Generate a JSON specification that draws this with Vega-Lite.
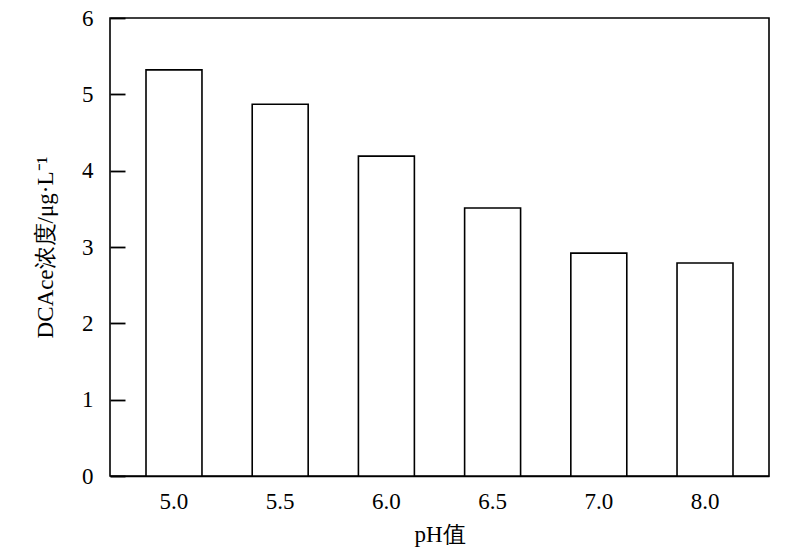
{
  "$schema": "https://vega.github.io/schema/vega-lite/v6.json",
  "autosize": "none",
  "width": 659,
  "height": 458,
  "padding": {"left": 110, "top": 18, "right": 31, "bottom": 84},
  "background": "white",
  "data": {"values": [
    {"pH": "5.0", "c": 5.32},
    {"pH": "5.5", "c": 4.87},
    {"pH": "6.0", "c": 4.19},
    {"pH": "6.5", "c": 3.51},
    {"pH": "7.0", "c": 2.92},
    {"pH": "8.0", "c": 2.79}
  ]},
  "mark": {"type": "bar", "fill": "white", "stroke": "black", "strokeWidth": 1.6},
  "encoding": {
    "x": {
      "field": "pH", "type": "ordinal", "sort": null,
      "scale": {"paddingInner": 0.473, "paddingOuter": 0.339},
      "axis": {"title": "pH值", "labelAngle": 0, "ticks": false, "labelPadding": 14, "titlePadding": 10,
        "labelFont": "Liberation Serif", "labelFontSize": 23, "titleFont": "Liberation Serif", "titleFontSize": 23}
    },
    "y": {
      "field": "c", "type": "quantitative",
      "scale": {"domain": [0, 6], "nice": false},
      "axis": {"title": "DCAce浓度/μg·L⁻¹", "values": [0,1,2,3,4,5,6], "ticks": true, "tickSize": 15, "tickColor": "black", "tickWidth": 1.8, "offset": -15, "domain": false, "labelPadding": 17, "titlePadding": 24, "grid": false, "zindex": 2,
        "labelFont": "Liberation Serif", "labelFontSize": 23, "titleFont": "Liberation Serif", "titleFontSize": 23}
    }
  },
  "config": {
    "view": {"stroke": "black", "strokeWidth": 1.6},
    "font": "Liberation Serif",
    "axis": {
      "domainColor": "black", "domainWidth": 1.6,
      "labelColor": "black",
      "titleFontWeight": "normal", "titleColor": "black",
      "grid": false
    }
  }
}
